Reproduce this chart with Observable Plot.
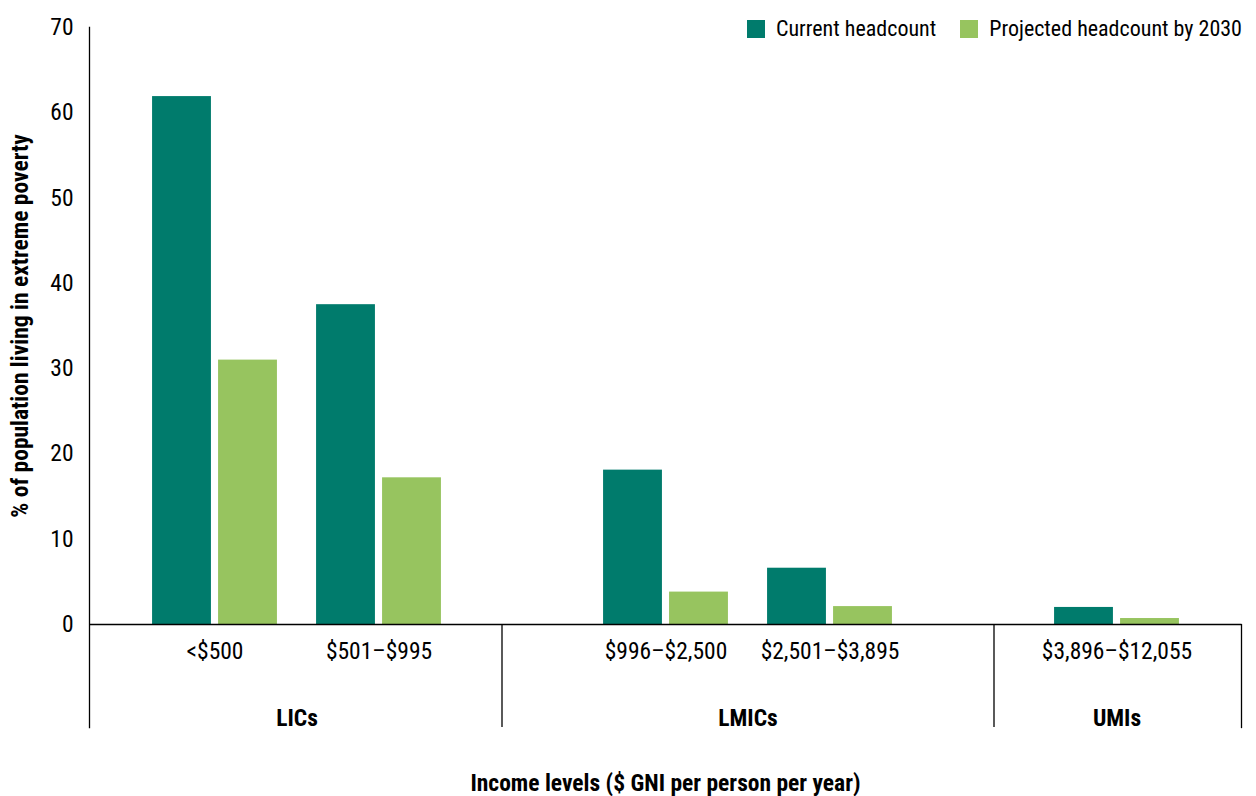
<!DOCTYPE html>
<html>
<head>
<meta charset="utf-8">
<script src="https://cdn.jsdelivr.net/npm/d3@7"></script>
<script src="https://cdn.jsdelivr.net/npm/@observablehq/plot@0.6"></script>
<style>
  html, body { margin: 0; padding: 0; background: #fff; }
  #wrap { position: relative; width: 1256px; height: 796px; font-family: "Liberation Sans Narrow", "Roboto Condensed", "DejaVu Sans Condensed", "Liberation Sans", sans-serif; color: #000; }
  #legend { position: absolute; top: 15px; left: 747px; display: flex; align-items: center; font-size: 22px; line-height: 28px; white-space: nowrap; }
  #legend .item { display: flex; align-items: center; margin-right: 24px; white-space: nowrap; }
  #legend .sw { width: 18px; height: 18px; margin-right: 11px; flex: none; }
</style>
</head>
<body>
<div id="wrap"><div id="chart"></div><div id="legend"></div></div>
<script>
// ---- data ----
const categories = ["<$500", "$501–$995", "$996–$2,500", "$2,501–$3,895", "$3,896–$12,055"];
const groupNames = ["LICs", "LMICs", "UMIs"];
const seriesNames = ["Current headcount", "Projected headcount by 2030"];
const currentHeadcount = [61.9, 37.5, 18.1, 6.6, 2.0];
const projectedHeadcount = [31.0, 17.2, 3.8, 2.1, 0.7];
const yTicks = [0, 10, 20, 30, 40, 50, 60, 70];
const yTitle = "% of population living in extreme poverty";
const xTitle = "Income levels ($ GNI per person per year)";

// ---- layout ----
const W = 1256, H = 796;
const marginLeft = 89, marginRight = 15, marginTop = 27, marginBottom = 172;
const plotH = H - marginTop - marginBottom;
const colors = ["#007b6c", "#97c45f"];
const font = '"Liberation Sans Narrow", "Roboto Condensed", "DejaVu Sans Condensed", "Liberation Sans", sans-serif';
const fs = 23.5;
const nSlots = 27;
const catSlot = [2, 6, 13, 17, 24];
const sepSlot = [9, 21];
const groupSlot = [4, 15, 24];
const slotKey = i => `s${i}`;
const slots = d3.range(nSlots).map(slotKey);
const step = (W - marginLeft - marginRight) / (nSlots + 1);
const barW = 59, halfGap = 3.5;
const near = step / 2 + halfGap;
const far = step / 2 - halfGap - barW;
const extendBelow = 103;

const rows = categories.map((c, i) => ({
  slot: slotKey(catSlot[i]), category: c,
  current: currentHeadcount[i], projected: projectedHeadcount[i]
}));
const groupRows = groupNames.map((g, i) => ({slot: slotKey(groupSlot[i]), name: g}));

const chart = Plot.plot({
  width: W, height: H,
  marginLeft, marginRight, marginTop, marginBottom,
  style: {fontFamily: font, fontSize: fs + "px", color: "#000", background: "#fff"},
  x: {type: "band", domain: slots, paddingInner: 0, paddingOuter: 0.5, axis: null},
  y: {domain: [0, 70], axis: null},
  marks: [
    Plot.barY(rows, {x: "slot", y: "current", fill: colors[0], insetLeft: far, insetRight: near}),
    Plot.barY(rows, {x: "slot", y: "projected", fill: colors[1], insetLeft: near, insetRight: far}),
    Plot.ruleY([0], {stroke: "#000", strokeWidth: 1.3}),
    Plot.frame({anchor: "left", insetBottom: -extendBelow, stroke: "#000", strokeWidth: 1.3}),
    Plot.frame({anchor: "right", insetTop: plotH, insetBottom: -extendBelow, stroke: "#000", strokeWidth: 1.3}),
    Plot.ruleX(sepSlot.map(slotKey), {insetTop: plotH, insetBottom: -extendBelow, stroke: "#000", strokeWidth: 1.3}),
    Plot.axisY(yTicks, {tickSize: 0, tickPadding: 16, fontSize: fs, label: null, fill: "#000"}),
    Plot.text(rows, {x: "slot", text: "category", frameAnchor: "bottom", dy: 34, fontSize: fs, fill: "#000"}),
    Plot.text(groupRows, {x: "slot", text: "name", frameAnchor: "bottom", dy: 101, fontSize: fs, fontWeight: "bold", fill: "#000"}),
    Plot.text([xTitle], {text: d => d, frameAnchor: "bottom", dy: 166, fontSize: fs, fontWeight: "bold", fill: "#000"}),
    Plot.text([yTitle], {text: d => d, frameAnchor: "left", textAnchor: "middle", rotate: -90, dx: -78, lineAnchor: "top", fontSize: fs, fontWeight: "bold", fill: "#000"})
  ]
});
document.getElementById("chart").appendChild(chart);

// ---- legend ----
const legend = document.getElementById("legend");
seriesNames.forEach((name, i) => {
  const item = document.createElement("div");
  item.className = "item";
  const sw = document.createElement("div");
  sw.className = "sw";
  sw.style.background = colors[i];
  const label = document.createElement("span");
  label.textContent = name;
  item.appendChild(sw);
  item.appendChild(label);
  legend.appendChild(item);
});
</script>
</body>
</html>
